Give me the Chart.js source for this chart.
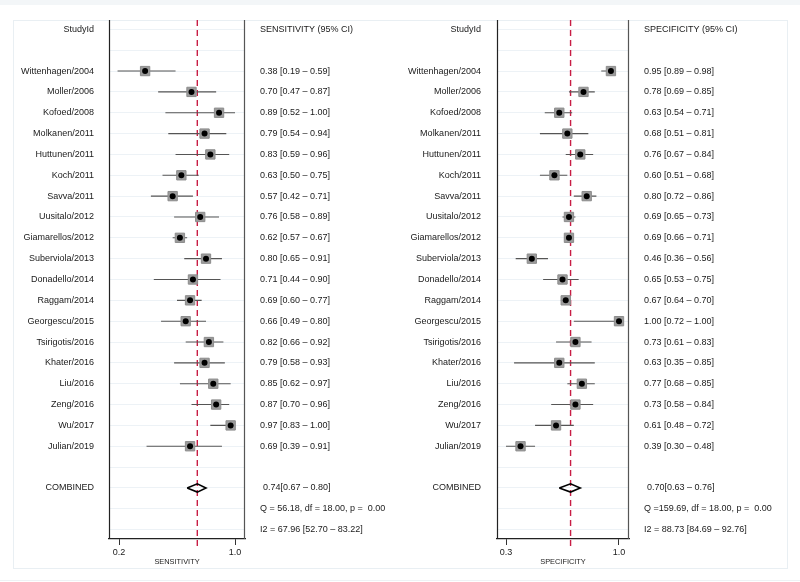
<!DOCTYPE html>
<html>
<head>
<meta charset="utf-8">
<script src="https://cdn.jsdelivr.net/npm/chart.js@4.4.1/dist/chart.umd.min.js"></script>
<style>
  html, body { margin: 0; padding: 0; background: #ffffff; }
  #wrap { position: relative; width: 800px; height: 582px; overflow: hidden; }
  #frame { position: absolute; left: 13px; top: 20px; width: 773px; height: 547px; border: 1px solid #e9eff3; }
  #topband { position: absolute; left: 0; top: 0; width: 800px; height: 5px; background: #f3f6f8; }
  #botline { position: absolute; left: 0; top: 580px; width: 800px; height: 1px; background: #eef2f5; }
  canvas { position: absolute; top: 0; }
  #c1 { left: 0; }
  #c2 { left: 400px; }
</style>
</head>
<body>
<div id="wrap">
  <div id="topband"></div>
  <div id="frame"></div>
  <div id="botline"></div>
  <canvas id="c1" width="400" height="582"></canvas>
  <canvas id="c2" width="400" height="582"></canvas>
</div>
<script>
// ---------------- DATA ----------------
const studies = [
  'Wittenhagen/2004', 'Moller/2006', 'Kofoed/2008', 'Molkanen/2011', 'Huttunen/2011',
  'Koch/2011', 'Savva/2011', 'Uusitalo/2012', 'Giamarellos/2012', 'Suberviola/2013',
  'Donadello/2014', 'Raggam/2014', 'Georgescu/2015', 'Tsirigotis/2016', 'Khater/2016',
  'Liu/2016', 'Zeng/2016', 'Wu/2017', 'Julian/2019'
];
const sensEst = [0.38, 0.70, 0.89, 0.79, 0.83, 0.63, 0.57, 0.76, 0.62, 0.80, 0.71, 0.69, 0.66, 0.82, 0.79, 0.85, 0.87, 0.97, 0.69];
const sensLo  = [0.19, 0.47, 0.52, 0.54, 0.59, 0.50, 0.42, 0.58, 0.57, 0.65, 0.44, 0.60, 0.49, 0.66, 0.58, 0.62, 0.70, 0.83, 0.39];
const sensHi  = [0.59, 0.87, 1.00, 0.94, 0.96, 0.75, 0.71, 0.89, 0.67, 0.91, 0.90, 0.77, 0.80, 0.92, 0.93, 0.97, 0.96, 1.00, 0.91];
const specEst = [0.95, 0.78, 0.63, 0.68, 0.76, 0.60, 0.80, 0.69, 0.69, 0.46, 0.65, 0.67, 1.00, 0.73, 0.63, 0.77, 0.73, 0.61, 0.39];
const specLo  = [0.89, 0.69, 0.54, 0.51, 0.67, 0.51, 0.72, 0.65, 0.66, 0.36, 0.53, 0.64, 0.72, 0.61, 0.35, 0.68, 0.58, 0.48, 0.30];
const specHi  = [0.98, 0.85, 0.71, 0.81, 0.84, 0.68, 0.86, 0.73, 0.71, 0.56, 0.75, 0.70, 1.00, 0.83, 0.85, 0.85, 0.84, 0.72, 0.48];
const sensCombined = [0.74, 0.67, 0.80];   // estimate, lower, upper
const specCombined = [0.70, 0.63, 0.76];
const sensTicks = [0.2, 1.0];
const specTicks = [0.3, 1.0];
const sensTickLabels = ['0.2', '1.0'];
const specTickLabels = ['0.3', '1.0'];
const sensHeader = 'SENSITIVITY (95% CI)';
const specHeader = 'SPECIFICITY (95% CI)';
const sensStats = ['Q = 56.18, df = 18.00, p =  0.00', 'I2 = 67.96 [52.70 \u2013 83.22]'];
const specStats = ['Q =159.69, df = 18.00, p =  0.00', 'I2 = 88.73 [84.69 \u2013 92.76]'];

// ---------------- CHART BUILDER ----------------
const FONT = '"Liberation Sans", Arial, Helvetica, sans-serif';
const ROW_FIRST = 2, ROW_COMB = 22, ROW_Q = 23, ROW_I2 = 24;

function fmt(e, l, h) { return e.toFixed(2) + ' [' + l.toFixed(2) + ' \u2013 ' + h.toFixed(2) + ']'; }

function makeChart(id, cfg) {
  const ciData = [], sqData = [], dotData = [];
  cfg.est.forEach((e, i) => {
    const r = ROW_FIRST + i;
    ciData.push({x: cfg.lo[i], y: r}, {x: cfg.hi[i], y: r}, {x: NaN, y: NaN});
    sqData.push({x: e, y: r});
    dotData.push({x: e, y: r});
  });
  const [ce, cl, ch] = cfg.combined;
  const diamond = [
    {x: cl, y: ROW_COMB}, {x: ce, y: ROW_COMB - 0.2}, {x: ch, y: ROW_COMB},
    {x: ce, y: ROW_COMB + 0.2}, {x: cl, y: ROW_COMB}
  ];
  const refLine = [{x: ce, y: -0.45}, {x: ce, y: 24.9}];

  const textPlugin = {
    id: 'forestText',
    afterDraw(chart) {
      const ctx = chart.ctx, y = chart.scales.y, a = chart.chartArea;
      ctx.save();
      // box sides
      ctx.lineWidth = 1.2;
      ctx.strokeStyle = '#222';
      ctx.beginPath(); ctx.moveTo(a.left + 0.5, a.top); ctx.lineTo(a.left + 0.5, a.bottom); ctx.stroke();
      ctx.strokeStyle = '#555';
      ctx.beginPath(); ctx.moveTo(a.right - 0.5, a.top); ctx.lineTo(a.right - 0.5, a.bottom); ctx.stroke();

      ctx.fillStyle = '#1a1a1a';
      ctx.font = '9px ' + FONT;
      ctx.textBaseline = 'middle';
      // study labels
      ctx.textAlign = 'right';
      ctx.fillText('StudyId', cfg.labelX, y.getPixelForValue(0));
      studies.forEach((s, i) => ctx.fillText(s, cfg.labelX, y.getPixelForValue(ROW_FIRST + i)));
      ctx.fillText('COMBINED', cfg.labelX, y.getPixelForValue(ROW_COMB));
      // stats column
      ctx.textAlign = 'left';
      ctx.fillText(cfg.header, cfg.statX, y.getPixelForValue(0));
      cfg.est.forEach((e, i) => ctx.fillText(fmt(e, cfg.lo[i], cfg.hi[i]), cfg.statX, y.getPixelForValue(ROW_FIRST + i)));
      ctx.fillText(ce.toFixed(2) + '[' + cl.toFixed(2) + ' \u2013 ' + ch.toFixed(2) + ']', cfg.statX + 3, y.getPixelForValue(ROW_COMB));
      ctx.fillText(cfg.stats[0], cfg.statX, y.getPixelForValue(ROW_Q));
      ctx.fillText(cfg.stats[1], cfg.statX, y.getPixelForValue(ROW_I2));
      ctx.restore();
    }
  };

  return new Chart(document.getElementById(id), {
    type: 'scatter',
    data: {
      datasets: [
        { data: refLine, showLine: true, borderColor: '#c81e45', borderWidth: 1.4, borderDash: [6, 4],
          pointRadius: 0, clip: false, order: 6 },
        { data: ciData, showLine: true, spanGaps: false, borderColor: '#555', borderWidth: 1.1,
          pointRadius: 0, order: 5 },
        { data: sqData, pointStyle: 'rect', pointRadius: 6.6, backgroundColor: '#9c9c9c',
          borderColor: '#8c8c8c', borderWidth: 1, order: 4 },
        { data: dotData, pointStyle: 'circle', pointRadius: 3, backgroundColor: '#000',
          borderColor: '#000', borderWidth: 0, order: 3 },
        { data: diamond, showLine: true, borderColor: '#000', borderWidth: 1.6, pointRadius: 0,
          fill: false, order: 2 }
      ]
    },
    options: {
      responsive: false,
      animation: false,
      events: [],
      layout: { padding: { left: cfg.left, right: 400 - cfg.right, top: 20, bottom: 0 } },
      plugins: { legend: { display: false }, tooltip: { enabled: false } },
      scales: {
        x: {
          type: 'linear',
          min: cfg.xmin, max: cfg.xmax,
          afterBuildTicks: s => { s.ticks = cfg.ticks.map(v => ({ value: v })); },
          afterFit: s => { s.height = 43; },
          grid: { drawOnChartArea: false, drawTicks: true, tickLength: 6, color: '#333', lineWidth: 1 },
          border: { display: true, color: '#222', width: 1.2 },
          ticks: {
            color: '#1a1a1a', font: { family: FONT, size: 9 }, padding: 2, maxRotation: 0,
            callback: (v) => cfg.tickLabels[cfg.ticks.indexOf(v)]
          },
          title: { display: true, text: cfg.title, color: '#1a1a1a', font: { family: FONT, size: 7.4 },
                   padding: { top: 0, bottom: 16 } }
        },
        y: {
          type: 'linear',
          reverse: true,
          min: -0.45, max: 24.45,
          afterBuildTicks: s => { const t = []; for (let i = 0; i <= 24; i++) t.push({ value: i }); s.ticks = t; },
          afterFit: s => { s.width = 0; },
          grid: { color: '#edf2f6', lineWidth: 1, drawTicks: false },
          border: { display: false },
          ticks: { display: false }
        }
      }
    },
    plugins: [textPlugin]
  });
}

const sensMin = 0.2 - (119 - 109) / 145, sensMax = 1.0 + (245 - 235) / 145;
makeChart('c1', {
  est: sensEst, lo: sensLo, hi: sensHi, combined: sensCombined,
  ticks: sensTicks, tickLabels: sensTickLabels, title: 'SENSITIVITY',
  header: sensHeader, stats: sensStats,
  left: 109, right: 245, xmin: sensMin, xmax: sensMax,
  labelX: 94, statX: 260
});
const specMin = 0.3 - (506 - 497) / 161.4, specMax = 1.0 + (629 - 619) / 161.4;
makeChart('c2', {
  est: specEst, lo: specLo, hi: specHi, combined: specCombined,
  ticks: specTicks, tickLabels: specTickLabels, title: 'SPECIFICITY',
  header: specHeader, stats: specStats,
  left: 97, right: 229, xmin: specMin, xmax: specMax,
  labelX: 81, statX: 244
});
</script>
</body>
</html>
